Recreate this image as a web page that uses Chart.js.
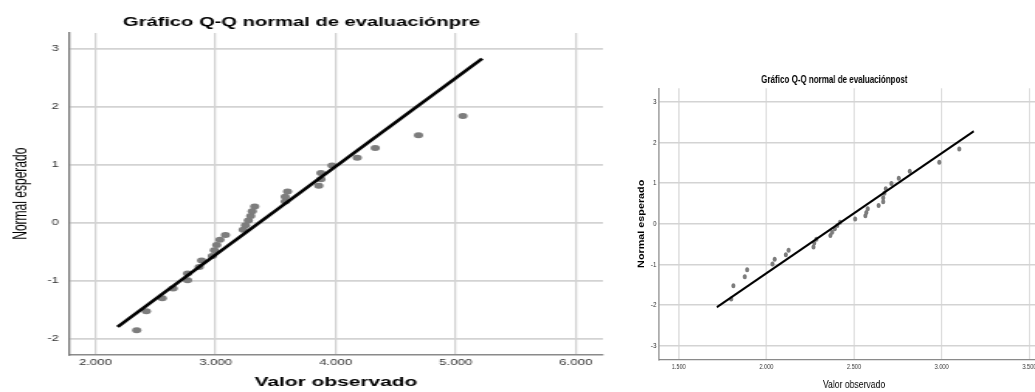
<!DOCTYPE html>
<html>
<head>
<meta charset="utf-8">
<script src="https://cdn.jsdelivr.net/npm/chart.js@4"></script>
<style>
  html, body { margin: 0; padding: 0; background: #fff; overflow: hidden; width: 1035px; height: 392px; }
  canvas { position: absolute; top: 0; transform-origin: 0 0; }
  /* the SPSS export is stretched sideways on the left and squeezed on the right */
  #pre { left: 0; transform: scaleX(1.55); }
  #post { left: 620px; transform: scaleX(0.8); }
</style>
</head>
<body>
<canvas id="pre" width="397" height="392"></canvas>
<canvas id="post" width="550" height="392"></canvas>
<script>
// expected normal quantiles (shared by both plots)
const expectedNormal = [-1.85, -1.52, -1.30, -1.13, -0.99, -0.87, -0.76, -0.65, -0.57, -0.47,
  -0.38, -0.29, -0.21, -0.12, -0.04, 0.04, 0.12, 0.20, 0.28, 0.37,
  0.45, 0.54, 0.64, 0.75, 0.86, 0.99, 1.12, 1.29, 1.51, 1.84];

// observed values, evaluaciónpre
const observedPre = [2.344, 2.424, 2.557, 2.647, 2.767, 2.767, 2.864, 2.884, 2.973, 2.990,
  3.010, 3.037, 3.083, 3.230, 3.250, 3.273, 3.293, 3.306, 3.326, 3.580,
  3.580, 3.600, 3.860, 3.878, 3.878, 3.970, 4.180, 4.330, 4.690, 5.060];

// observed values, evaluaciónpost
const observedPost = [1.799, 1.812, 1.877, 1.890, 2.035, 2.047, 2.111, 2.127, 2.269, 2.273,
  2.285, 2.365, 2.375, 2.390, 2.405, 2.420, 2.506, 2.565, 2.570, 2.578,
  2.640, 2.666, 2.666, 2.673, 2.681, 2.713, 2.755, 2.818, 2.986, 3.100];

// reference lines (end points)
const preLineX = [2.185, 5.22];
const preLineY = [-1.79, 2.83];
const postLineX = [1.717, 3.183];
const postLineY = [-2.05, 2.275];

// ticks
const preXTicks = [2, 3, 4, 5, 6];
const preXTickLabels = ["2.000", "3.000", "4.000", "5.000", "6.000"];
const preYTicks = [-2, -1, 0, 1, 2, 3];
const postXTicks = [1.5, 2, 2.5, 3, 3.5];
const postXTickLabels = ["1.500", "2.000", "2.500", "3.000", "3.500"];
const postYTicks = [-3, -2, -1, 0, 1, 2, 3];

const FONT = "'Liberation Sans', Arial, sans-serif";
Chart.defaults.font.family = FONT;

function toPoints(xs, ys) {
  return xs.map((x, i) => ({ x: x, y: ys[i] }));
}

function qqChart(canvasId, cfg) {
  return new Chart(document.getElementById(canvasId), {
    type: "scatter",
    data: {
      datasets: [
        {
          data: toPoints(cfg.lineX, cfg.lineY),
          showLine: true,
          borderColor: "#000",
          borderWidth: cfg.lineWidth,
          pointRadius: 0
        },
        {
          data: toPoints(cfg.observed, expectedNormal),
          backgroundColor: "#7d7d7d",
          borderWidth: 0,
          pointRadius: cfg.pointRadius
        }
      ]
    },
    options: {
      responsive: false,
      animation: false,
      layout: { padding: { left: 0, right: cfg.rightPad, top: 0, bottom: 0 } },
      plugins: {
        legend: { display: false },
        tooltip: { enabled: false },
        title: {
          display: true,
          text: cfg.title,
          color: "#000",
          font: { size: cfg.titleSize, weight: "bold" },
          padding: cfg.titlePad
        }
      },
      scales: {
        x: {
          type: "linear",
          min: cfg.xMin,
          max: cfg.xMax,
          afterBuildTicks: s => { s.ticks = cfg.xTicks.map(v => ({ value: v })); },
          afterFit: s => { s.height = cfg.xHeight; },
          ticks: {
            callback: (v, i) => cfg.xLabels[i],
            color: "#333",
            font: { size: cfg.xTickSize },
            padding: cfg.xTickPad,
            maxRotation: 0,
            autoSkip: false
          },
          grid: { color: "#d3d3d3", lineWidth: cfg.xGrid, drawTicks: false },
          border: { color: "#8a8a8a", width: cfg.xBorder },
          title: {
            display: true,
            text: "Valor observado",
            color: "#000",
            font: { size: cfg.xTitleSize, weight: cfg.xTitleWeight },
            padding: { top: 0, bottom: cfg.xTitlePad }
          }
        },
        y: {
          type: "linear",
          min: cfg.yMin,
          max: cfg.yMax,
          afterBuildTicks: s => { s.ticks = cfg.yTicks.map(v => ({ value: v })); },
          afterFit: s => { s.width = cfg.yWidth; },
          ticks: {
            color: "#333",
            font: { size: cfg.yTickSize },
            padding: cfg.yTickPad
          },
          grid: { color: "#d3d3d3", lineWidth: cfg.yGrid, drawTicks: false },
          border: { color: "#7a7a7a", width: cfg.yBorder },
          title: {
            display: true,
            text: "Normal esperado",
            color: "#000",
            font: { size: cfg.yTitleSize, weight: cfg.yTitleWeight },
            padding: { top: cfg.yTitlePad, bottom: 0 }
          }
        }
      }
    }
  });
}

qqChart("pre", {
  title: "Gráfico Q-Q normal de evaluaciónpre",
  titleSize: 13, titlePad: { top: 15, bottom: 2.4 },
  observed: observedPre, lineX: preLineX, lineY: preLineY,
  lineWidth: 2.6, pointRadius: 3,
  rightPad: 8,
  xMin: 1.78, xMax: 6.226, xTicks: preXTicks, xLabels: preXTickLabels,
  xHeight: 37.6, xTickSize: 8.5, xTickPad: 3, xGrid: 1.3, xBorder: 1.5,
  xTitleSize: 13.5, xTitleWeight: "bold", xTitlePad: 1.9,
  yMin: -2.265, yMax: 3.27, yTicks: preYTicks,
  yWidth: 44.5, yTickSize: 8.5, yTickPad: 6.5, yGrid: 1.7, yBorder: 1.3,
  yTitleSize: 12, yTitleWeight: "normal", yTitlePad: 6.7
});

qqChart("post", {
  title: "Gráfico Q-Q normal de evaluaciónpost",
  titleSize: 10, titlePad: { top: 74, bottom: 2.3 },
  observed: observedPost, lineX: postLineX, lineY: postLineY,
  lineWidth: 2.2, pointRadius: 2.5,
  rightPad: 14,
  xMin: 1.389, xMax: 3.611, xTicks: postXTicks, xLabels: postXTickLabels,
  xHeight: 32.7, xTickSize: 7, xTickPad: 3.2, xGrid: 1.4, xBorder: 1.3,
  xTitleSize: 10.8, xTitleWeight: "normal", xTitlePad: 0,
  yMin: -3.33, yMax: 3.33, yTicks: postYTicks,
  yWidth: 49.1, yTickSize: 8, yTickPad: 3.5, yGrid: 1.5, yBorder: 1.4,
  yTitleSize: 10.8, yTitleWeight: "bold", yTitlePad: 20.6
});
</script>
</body>
</html>
